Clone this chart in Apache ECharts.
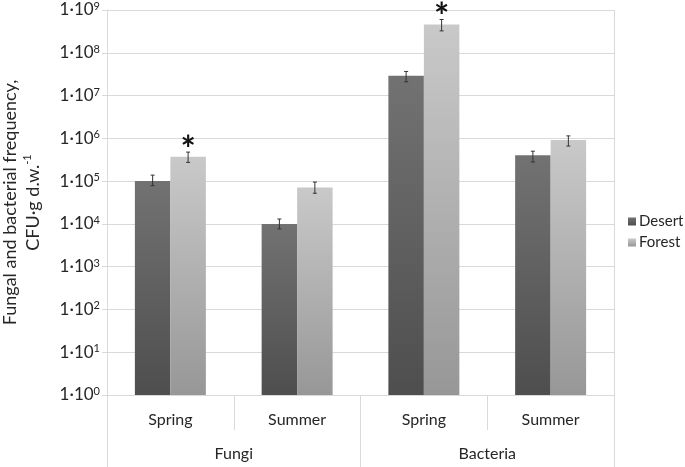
<!DOCTYPE html>
<html>
<head>
<meta charset="utf-8">
<script src="https://cdn.jsdelivr.net/npm/echarts@6/dist/echarts.min.js"></script>
<style>html,body{margin:0;padding:0;background:#fff;}#c{width:685px;height:467px;}</style>
</head>
<body>
<div id="c"></div>
<script>
var categories = ['Spring', 'Summer', 'Spring', 'Summer'];
var groups = ['Fungi', 'Bacteria'];
var seriesNames = ['Desert', 'Forest'];
var desert = [1.0e5, 1.0e4, 2.9e7, 4.0e5];
var forest = [3.7e5, 7.1e4, 4.6e8, 9.1e5];
var desertLow = [7.8e4, 7.6e3, 2.1e7, 2.8e5];
var desertHigh = [1.38e5, 1.3e4, 3.66e7, 5.0e5];
var forestLow = [2.74e5, 5.2e4, 3.25e8, 6.6e5];
var forestHigh = [4.76e5, 9.5e4, 6.0e8, 1.14e6];
var forestSig = [1, 0, 1, 0];
var yMin = 1, yMax = 1e9;

var FONT = 'Lato';
var TXT = '#262626';
var GRID = '#d9d9d9';

var chart = echarts.init(document.getElementById('c'), null, {renderer: 'canvas'});

function grad(top, bottom) {
  return new echarts.graphic.LinearGradient(0, 0, 0, 1, [
    {offset: 0, color: top}, {offset: 1, color: bottom}
  ]);
}

var errData = [];
for (var i = 0; i < categories.length; i++) {
  errData.push([i, desertLow[i], desertHigh[i], -1, 0]);
  errData.push([i, forestLow[i], forestHigh[i], 1, forestSig[i]]);
}

var option = {
  animation: false,
  backgroundColor: '#fff',
  textStyle: {fontFamily: FONT},
  grid: {left: 107, right: 71, top: 10, bottom: 72, containLabel: false, outerBoundsMode: 'none'},
  legend: {
    orient: 'vertical', left: 623, top: 209,
    itemWidth: 8, itemHeight: 8, itemGap: 6, icon: 'rect',
    data: seriesNames,
    textStyle: {fontSize: 15, color: TXT, fontFamily: FONT, padding: [0, 0, 0, -2]}
  },
  xAxis: [
    {
      type: 'category', data: categories, position: 'bottom',
      axisLine: {show: true, lineStyle: {color: GRID}},
      axisTick: {show: true, interval: 0, length: 35, lineStyle: {color: GRID}},
      axisLabel: {interval: 0, fontSize: 16, color: TXT, margin: 17, fontFamily: FONT},
      splitLine: {show: false}
    },
    {
      type: 'category', data: groups, position: 'bottom',
      axisLine: {show: false},
      axisTick: {show: true, interval: 0, length: 72, lineStyle: {color: GRID}},
      axisLabel: {interval: 0, fontSize: 16, color: TXT, margin: 51, fontFamily: FONT},
      splitLine: {show: true, interval: function (idx) { return idx === 1; }, lineStyle: {color: GRID}}
    }
  ],
  yAxis: {
    type: 'log', logBase: 10, min: yMin, max: yMax, splitNumber: 9,
    axisLine: {show: true, lineStyle: {color: GRID}},
    axisTick: {show: true, length: 5, lineStyle: {color: GRID}},
    splitLine: {show: true, lineStyle: {color: GRID}},
    minorTick: {show: false},
    axisLabel: {
      margin: 7, color: TXT, fontSize: 17, fontFamily: FONT,
      formatter: function (v) {
        return '1·10{sup|' + Math.round(Math.log10(v)) + '}';
      },
      rich: {sup: {fontSize: 11, verticalAlign: 'top', color: TXT, fontFamily: FONT, padding: [0, 0, 7, 0]}}
    },
    name: 'Fungal and bacterial frequency,\nCFU·g d.w.{sup|-1}',
    nameLocation: 'middle', nameRotate: 90, nameGap: 62,
    nameTextStyle: {
      fontSize: 18, color: TXT, fontFamily: FONT, lineHeight: 23, align: 'center',
      rich: {sup: {fontSize: 11, color: TXT, fontFamily: FONT, verticalAlign: 'top', padding: [0, 0, 8, 0]}}
    }
  },
  series: [
    {
      name: seriesNames[0], type: 'bar', xAxisIndex: 0, data: desert,
      barWidth: '28%', barGap: '0%',
      itemStyle: {color: grad('#727272', '#4e4e4e')}
    },
    {
      name: seriesNames[1], type: 'bar', xAxisIndex: 0, data: forest,
      barWidth: '28%', barGap: '0%',
      itemStyle: {color: grad('#c9c9c9', '#979797')}
    },
    {
      type: 'custom', xAxisIndex: 0, data: errData, z: 10, clip: false,
      encode: {x: 0, y: [1, 2]},
      renderItem: function (params, api) {
        var idx = api.value(0);
        var lo = api.coord([idx, api.value(1)]);
        var hi = api.coord([idx, api.value(2)]);
        var bw = api.size([1, 0])[0];
        var x = lo[0] + api.value(3) * bw * 0.14;
        var c = 2;
        var st = {stroke: '#333', lineWidth: 1};
        var children = [
          {type: 'line', shape: {x1: x, y1: lo[1], x2: x, y2: hi[1]}, style: st},
          {type: 'line', shape: {x1: x - c, y1: lo[1], x2: x + c, y2: lo[1]}, style: st},
          {type: 'line', shape: {x1: x - c, y1: hi[1], x2: x + c, y2: hi[1]}, style: st}
        ];
        if (api.value(4)) {
          children.push({
            type: 'text',
            style: {text: '*', x: x, y: hi[1] + 16, fontSize: 36, fontFamily: FONT, fontWeight: 'bold',
                    fill: '#111', align: 'center', verticalAlign: 'bottom'}
          });
        }
        return {type: 'group', children: children};
      }
    }
  ]
};
chart.setOption(option);
</script>
</body>
</html>
